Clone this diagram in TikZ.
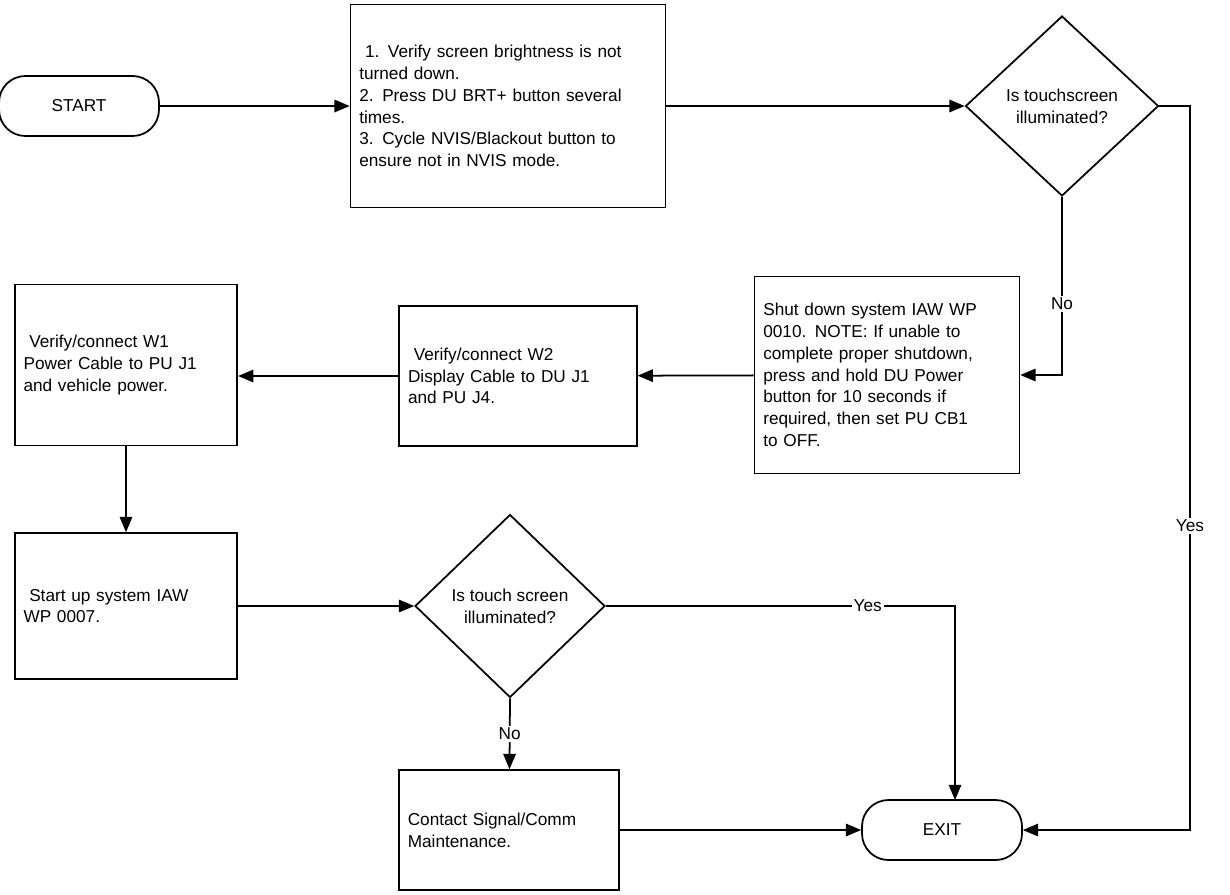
\documentclass[tikz,border=0pt]{standalone}
\usepackage{fontspec}
\setmainfont{Liberation Sans}
\usetikzlibrary{shapes,arrows,positioning}
\tikzstyle{box}=[rectangle, draw=black, line width=1, align=left, inner sep=5pt, font=\fontsize{9.8}{12.4}\selectfont]
\tikzstyle{term}=[rectangle, rounded corners=15pt, draw=black, line width=1, minimum width=3.2cm, minimum height=1.2cm, font=\fontsize{9.8}{12.4}\selectfont]
\tikzstyle{dec}=[diamond, draw=black, line width=1, align=center, inner sep=0pt, font=\fontsize{9.8}{12.4}\selectfont]
\tikzstyle{l1}=[line width=1]
\tikzstyle{a1}=[l1, -triangle 45]
\tikzstyle{lab}=[fill=white, inner sep=1pt, font=\fontsize{9.8}{12.4}\selectfont]

\begin{document}
\begin{tikzpicture}[x=0.02cm, y=-0.02cm]
    \useasboundingbox (0,0) rectangle (1230,894);

    \node[term] at (79,106) (start) {START};
    \node[box, minimum width=6.28cm, minimum height=4.06cm, text width=5.95cm] at (508,106) (brt) {\ 1. Verify screen brightness is not\\turned down.\\2. Press DU BRT+ button several\\times.\\3. Cycle NVIS/Blackout button to\\ensure not in NVIS mode.};
    \node[dec, minimum width=3.86cm, minimum height=3.6cm] at (1062,106) (lit1) {Is touchscreen\\illuminated?};
    \node[box, minimum width=5.22cm, minimum height=3.94cm, text width=4.95cm] at (887,375) (shut) {Shut down system IAW WP\\0010. NOTE: If unable to\\complete proper shutdown,\\press and hold DU Power\\button for 10 seconds if\\required, then set PU CB1\\to OFF.};
    \node[box, minimum width=4.7cm, minimum height=2.8cm, text width=4.4cm] at (518,376) (w2) {\ Verify/connect W2\\Display Cable to DU J1\\and PU J4.};
    \node[box, minimum width=4.4cm, minimum height=3.22cm, text width=4.1cm] at (126,365) (w1) {\ Verify/connect W1\\Power Cable to PU J1\\and vehicle power.};
    \node[box, minimum width=4.4cm, minimum height=2.92cm, text width=4.1cm] at (126,606) (up) {\ Start up system IAW\\WP 0007.};
    \node[dec, minimum width=3.8cm, minimum height=3.66cm] at (510,606) (lit2) {Is touch screen\\illuminated?};
    \node[box, minimum width=4.32cm, minimum height=2.4cm, text width=4.05cm] at (509,830) (call) {Contact Signal/Comm\\Maintenance.};
    \node[term] at (942,830) (exit) {EXIT};

    \draw[a1] (start) -- (brt);
    \draw[a1] (brt) -- (lit1);
    \draw[a1] (lit1.east) -- (1190,106) -- node[lab, pos=0.58] {Yes} (1190,830) -- (exit);
    \draw[a1] (lit1.south) -- node[lab, pos=0.6] {No} (1062,375) -- (shut);
    \draw[a1] (shut) -- (w2);
    \draw[a1] (w2) -- (w2.west -| w1.east);
    \draw[a1] (w1) -- (up);
    \draw[a1] (up) -- (lit2);
    \draw[a1] (lit2.east) -- node[lab, pos=0.75] {Yes} (955,606) -- (955,800);
    \draw[a1] (lit2.south) -- node[lab] {No} (call);
    \draw[a1] (call) -- (exit);
\end{tikzpicture}
\end{document}
